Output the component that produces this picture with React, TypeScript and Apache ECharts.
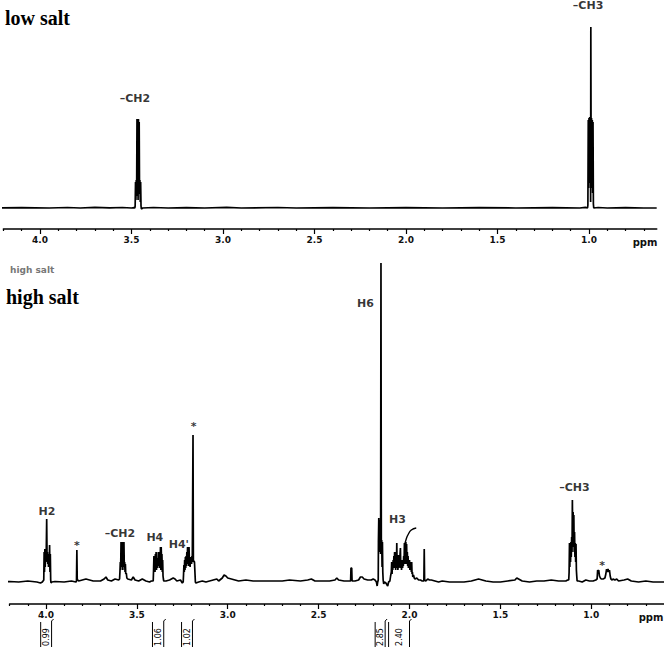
import React, { useEffect, useRef } from "react";
import * as echarts from "echarts";

// ---- axis ticks (ppm) ----
const majorTicks = [4.0, 3.5, 3.0, 2.5, 2.0, 1.5, 1.0];
const minorTicks = [
  4.2, 4.1, 3.9, 3.8, 3.7, 3.6, 3.4, 3.3, 3.2, 3.1, 2.9, 2.8, 2.7, 2.6, 2.4, 2.3,
  2.2, 2.1, 1.9, 1.8, 1.7, 1.6, 1.4, 1.3, 1.2, 1.1, 0.9, 0.8, 0.7,
];

// ---- low salt spectrum [ppm, intensity] ----
const lowSalt: [number, number][] = [
  [4.22, 0], [4.1, 0.3], [3.95, 0], [3.85, 0.5], [3.78, 0], [3.7, 0.6], [3.62, 0.2], [3.55, 0.5], [3.5, 0], [3.486, 0.3],
  [3.482, 0], [3.48, 2], [3.478, 26], [3.476, 8], [3.474, 28], [3.472, 12], [3.47, 89], [3.468, 30], [3.466, 88],
  [3.464, 8], [3.462, 89], [3.46, 30], [3.458, 86], [3.456, 14], [3.454, 28], [3.452, 6], [3.45, 26], [3.448, 2],
  [3.446, -1], [3.44, 0], [3.38, 0.5], [3.3, 0], [3.2, 0.4], [3.1, 0], [2.98, 0.6], [2.9, 0], [2.7, 0.5], [2.6, 0],
  [2.4, 0.4], [2.2, 0], [2.0, 0.3], [1.8, 0], [1.6, 0.3], [1.4, 0], [1.2, 0.4], [1.05, 0], [1.02, 0.6],
  [1.008, 0], [1.006, 3], [1.004, 88], [1.002, 20], [1.0, 90], [0.998, 25], [0.996, 91], [0.994, 30], [0.992, 89],
  [0.991, 6], [0.99, 181], [0.988, 30], [0.986, 90], [0.984, 20], [0.982, 88], [0.98, 15], [0.978, 86], [0.976, 4],
  [0.974, 0], [0.95, 0.5], [0.9, 0], [0.8, 0.4], [0.7, 0], [0.63, 0],
];

// ---- high salt spectrum [ppm, intensity] ----
const highSalt: [number, number][] = [
  [4.25, 0], [4.2, 0.5], [4.15, 0], [4.1, 1], [4.05, 0], [4.03, -1], [4.02, 0],
  [4.012, 2], [4.01, 30], [4.008, 10], [4.006, 33], [4.004, 15], [4.002, 32], [4.0, 20], [3.998, 35], [3.996, 63],
  [3.994, 25], [3.992, 30], [3.99, 18], [3.988, 28], [3.986, 15], [3.984, 27], [3.982, 20], [3.98, 37], [3.978, 10],
  [3.976, 28], [3.974, 2], [3.972, -1], [3.968, 0], [3.95, 0.5], [3.9, 0], [3.86, 1], [3.835, 0],
  [3.832, 1], [3.83, 32], [3.828, 3], [3.825, 2], [3.82, 1],
  [3.8, 2], [3.78, 3], [3.76, 2], [3.74, 1], [3.7, 1], [3.68, 3], [3.67, 5], [3.66, 2], [3.64, 1], [3.62, 3], [3.6, 2],
  [3.595, 3], [3.593, 10], [3.591, 20], [3.589, 12], [3.587, 40], [3.585, 15], [3.583, 40], [3.581, 18], [3.579, 20],
  [3.577, 12], [3.575, 40], [3.573, 18], [3.571, 40], [3.569, 15], [3.567, 20], [3.565, 10], [3.563, 18], [3.561, 8],
  [3.558, 9], [3.555, 4], [3.55, 3],
  [3.53, 2], [3.52, 5], [3.51, 2], [3.49, 1], [3.47, 3], [3.45, 1], [3.43, 0], [3.42, 1],
  [3.41, 1], [3.408, 12], [3.406, 26], [3.404, 14], [3.402, 22], [3.4, 10], [3.398, 28], [3.396, 18], [3.394, 30],
  [3.392, 12], [3.39, 22], [3.388, 14], [3.386, 24], [3.384, 16], [3.382, 30], [3.38, 18], [3.378, 26], [3.376, 14],
  [3.374, 30], [3.372, 20], [3.37, 35], [3.368, 12], [3.366, 35], [3.364, 20], [3.362, 28], [3.36, 10], [3.358, 22],
  [3.356, 6], [3.354, 3], [3.352, 1],
  [3.34, 1], [3.32, 2], [3.3, 4], [3.29, 3], [3.28, 1], [3.26, 2], [3.25, -1],
  [3.245, 0], [3.243, 8], [3.241, 17], [3.239, 10], [3.237, 22], [3.235, 12], [3.233, 25], [3.231, 14], [3.229, 26],
  [3.227, 16], [3.225, 30], [3.223, 18], [3.221, 35], [3.219, 20], [3.217, 28], [3.215, 16], [3.213, 35], [3.211, 22],
  [3.209, 24], [3.207, 15], [3.205, 25], [3.203, 18], [3.201, 22], [3.199, 18], [3.197, 26], [3.195, 20], [3.193, 20],
  [3.191, 147], [3.189, 22], [3.187, 20], [3.185, 21], [3.183, 20], [3.18, 20], [3.178, 0], [3.175, -1],
  [3.16, 0], [3.14, 1], [3.12, 0], [3.1, 1], [3.08, 2], [3.06, 3], [3.05, 1], [3.03, 4], [3.02, 7], [3.01, 6], [3.0, 4],
  [2.98, 3], [2.96, 2], [2.94, 1], [2.9, 2], [2.86, 1], [2.8, 1], [2.74, 1], [2.7, 1], [2.66, 2], [2.6, 1], [2.56, 2],
  [2.54, 3], [2.52, 1], [2.48, 1], [2.44, 1], [2.41, 2], [2.4, 4], [2.39, 2], [2.36, 1], [2.34, 1],
  [2.324, 1], [2.322, 14], [2.32, 14], [2.318, 14], [2.316, 1],
  [2.3, 1], [2.28, 2], [2.27, 5], [2.26, 5], [2.25, 3], [2.23, 2], [2.21, 2], [2.2, 3], [2.19, 2], [2.182, 0],
  [2.178, -4], [2.175, 0],
  [2.172, 2], [2.171, 40], [2.169, 64], [2.167, 30], [2.165, 62], [2.163, 30], [2.161, 60], [2.159, 28], [2.157, 319],
  [2.155, 30], [2.153, 42], [2.151, 15], [2.149, 40], [2.147, 10], [2.145, 2], [2.142, -2], [2.138, 0],
  [2.13, -1], [2.12, -4], [2.115, 0], [2.108, 1], [2.104, 6],
  [2.1, 10], [2.098, 20], [2.096, 8], [2.094, 18], [2.092, 12], [2.09, 22], [2.088, 14], [2.086, 26], [2.084, 15],
  [2.082, 30], [2.08, 14], [2.078, 22], [2.076, 12], [2.074, 30], [2.072, 16], [2.07, 39], [2.068, 14], [2.066, 24],
  [2.064, 12], [2.062, 18], [2.06, 27], [2.058, 14], [2.056, 22], [2.054, 16], [2.052, 28], [2.05, 34], [2.048, 14],
  [2.046, 22], [2.044, 12], [2.042, 18], [2.04, 22], [2.038, 14], [2.036, 20], [2.034, 16], [2.032, 26], [2.03, 18],
  [2.028, 39], [2.026, 20], [2.024, 34], [2.022, 18], [2.02, 40], [2.018, 22], [2.016, 38], [2.014, 18], [2.012, 30],
  [2.01, 16], [2.008, 26], [2.006, 14], [2.004, 20], [2.002, 14], [2.0, 22], [1.998, 12], [1.996, 18], [1.994, 14],
  [1.992, 20], [1.99, 10], [1.988, 20], [1.986, 8], [1.984, 10], [1.982, 5], [1.978, 7], [1.974, 4], [1.97, 3],
  [1.96, 4], [1.95, 2], [1.94, 2], [1.93, 1],
  [1.921, 1], [1.919, 33], [1.917, 2],
  [1.91, 1], [1.9, 3], [1.89, 2], [1.88, 2], [1.86, 1], [1.84, 0], [1.82, 1], [1.78, 0], [1.74, 0], [1.7, 0], [1.66, 1],
  [1.64, 2], [1.62, 3], [1.6, 2], [1.58, 1], [1.54, 0], [1.5, 0], [1.46, 1], [1.42, 2], [1.41, 4], [1.4, 3], [1.38, 1],
  [1.34, 0], [1.3, 1], [1.26, 1], [1.22, 2], [1.18, 1], [1.14, 1], [1.13, 2],
  [1.124, 2], [1.122, 10], [1.12, 39], [1.118, 15], [1.116, 38], [1.114, 20], [1.112, 40], [1.11, 25], [1.108, 45],
  [1.106, 30], [1.104, 82], [1.102, 40], [1.1, 70], [1.098, 35], [1.096, 67], [1.094, 30], [1.092, 50], [1.09, 25],
  [1.088, 39], [1.086, 20], [1.084, 38], [1.082, 12], [1.08, 6], [1.078, 1],
  [1.07, 1], [1.05, 0], [1.03, 2], [1.01, 1], [0.99, 1], [0.975, 2],
  [0.968, 3], [0.965, 12], [0.962, 9], [0.959, 12], [0.955, 6], [0.95, 4], [0.945, 3], [0.935, 3], [0.925, 4],
  [0.92, 8], [0.916, 13], [0.912, 10], [0.908, 13], [0.904, 10], [0.9, 12], [0.896, 6], [0.892, 3], [0.885, 2],
  [0.88, 3], [0.87, 2], [0.86, 3], [0.85, 1], [0.82, 2], [0.8, 3], [0.78, 1], [0.74, 0], [0.7, 1], [0.66, 0], [0.6, 0],
];

// integral trace over the 2.0 ppm multiplet
const integralCurve: [number, number][] = [
  [2.027, 37], [2.018, 43], [2.009, 47], [1.99, 52], [1.963, 54],
];

// peak annotations [ppm, height, text]
const lowSaltLabels: [number, number, string][] = [
  [3.481, 110, "–CH2"],
  [1.005, 203, "–CH3"],
];
const highSaltLabels: [number, number, string][] = [
  [3.995, 71, "H2"],
  [3.83, 37, "*"],
  [3.593, 49, "–CH2"],
  [3.401, 45, "H4"],
  [3.269, 38, "H4'"],
  [3.187, 156, "*"],
  [2.242, 279, "H6"],
  [2.066, 63, "H3"],
  [1.093, 95, "–CH3"],
  [0.94, 17, "*"],
];

// integrals [from ppm, to ppm, value]
const integrals: [number, number, string][] = [
  [4.029, 3.969, "0.99"],
  [3.414, 3.352, "1.06"],
  [3.254, 3.194, "1.02"],
  [2.189, 2.134, "2.85"],
  [2.115, 2.0, "2.40"],
];

const tickLabelStyle = {
  fontFamily: "DejaVu Sans",
  fontSize: 9,
  fontWeight: "bold" as const,
  color: "#111",
  margin: 6,
  formatter: (v: number) => v.toFixed(1),
};

function makeAxes(gridIndex: number, min: number, max: number) {
  return [
    {
      type: "value",
      gridIndex,
      inverse: true,
      min,
      max,
      position: "bottom",
      axisLine: { show: true, onZero: false, lineStyle: { color: "#000", width: 1.6 } },
      axisTick: { show: true, customValues: majorTicks, length: 5, lineStyle: { color: "#000", width: 1.2 } },
      axisLabel: { ...tickLabelStyle, customValues: majorTicks },
      splitLine: { show: false },
    },
    {
      type: "value",
      gridIndex,
      inverse: true,
      min,
      max,
      position: "bottom",
      offset: 0,
      axisLine: { show: false, onZero: false },
      axisTick: { show: true, customValues: minorTicks, length: 2, lineStyle: { color: "#000", width: 1.2 } },
      axisLabel: { show: false },
      splitLine: { show: false },
    },
  ];
}

const peakLabelFont = {
  fontFamily: "DejaVu Sans",
  fontSize: 11,
  fontWeight: "bold" as const,
  color: "#000",
};

function labelSeries(xAxisIndex: number, yAxisIndex: number, items: [number, number, string][]) {
  return {
    type: "scatter",
    xAxisIndex,
    yAxisIndex,
    symbolSize: 1,
    itemStyle: { color: "rgba(0,0,0,0)" },
    silent: true,
    data: items.map((d) => ({ value: [d[0], d[1]], name: d[2] })),
    label: {
      show: true,
      position: "inside",
      formatter: (p: any) => p.name,
      ...peakLabelFont,
    },
  };
}

export default function App() {
  const ref = useRef<HTMLDivElement>(null);
  useEffect(() => {
    if (!ref.current) return;
    const chart = echarts.init(ref.current, undefined, { renderer: "svg" });
    const option: any = {
      animation: false,
      backgroundColor: "#fff",
      grid: [
        { left: 3.4, top: 0, width: 653.3, height: 229 },
        { left: 9.6, top: 254, width: 655.2, height: 350 },
      ],
      xAxis: [...makeAxes(0, 0.63, 4.2), ...makeAxes(1, 0.6, 4.2)],
      yAxis: [
        { type: "value", gridIndex: 0, min: -21, max: 208, show: false },
        { type: "value", gridIndex: 1, min: -22, max: 328, show: false },
      ],
      series: [
        {
          type: "line",
          xAxisIndex: 0,
          yAxisIndex: 0,
          data: lowSalt,
          showSymbol: false,
          lineStyle: { color: "#000", width: 1.7 },
          silent: true,
        },
        {
          type: "line",
          xAxisIndex: 2,
          yAxisIndex: 1,
          data: highSalt,
          showSymbol: false,
          lineStyle: { color: "#000", width: 1.7 },
          silent: true,
        },
        {
          type: "line",
          xAxisIndex: 2,
          yAxisIndex: 1,
          data: integralCurve,
          showSymbol: false,
          smooth: true,
          lineStyle: { color: "#000", width: 1.4 },
          silent: true,
        },
        labelSeries(0, 0, lowSaltLabels),
        labelSeries(2, 1, highSaltLabels),
        {
          type: "custom",
          xAxisIndex: 2,
          yAxisIndex: 1,
          clip: false,
          silent: true,
          data: integrals.map((d) => [d[0], d[1]]),
          renderItem: (params: any, api: any) => {
            const item = integrals[params.dataIndex];
            const p1 = api.coord([api.value(0), -22]);
            const p2 = api.coord([api.value(1), -22]);
            const x1 = p1[0];
            const x2 = p2[0];
            const yA = p1[1];
            const ls = { stroke: "#000", lineWidth: 1 };
            return {
              type: "group",
              children: [
                { type: "line", shape: { x1, y1: yA + 18, x2: x1, y2: yA + 45 }, style: ls },
                { type: "line", shape: { x1: x2, y1: yA + 17, x2, y2: yA + 45 }, style: ls },
                { type: "line", shape: { x1: x2, y1: yA + 17, x2: x2 + 2, y2: yA + 15 }, style: ls },
                {
                  type: "text",
                  x: (x1 + x2) / 2,
                  y: yA + 33,
                  rotation: Math.PI / 2,
                  style: {
                    text: item[2],
                    fontFamily: "DejaVu Sans",
                    fontSize: 8,
                    fill: "#000",
                    align: "center",
                    verticalAlign: "middle",
                  },
                },
              ],
            };
          },
        },
      ],
      graphic: [
        {
          type: "text",
          left: 5,
          top: 8,
          style: { text: "low salt", font: "bold 20px 'Liberation Serif'", fill: "#000" },
        },
        {
          type: "text",
          left: 10,
          top: 265,
          style: { text: "high salt", font: "bold 9px 'DejaVu Sans'", fill: "#777" },
        },
        {
          type: "text",
          left: 6,
          top: 287,
          style: { text: "high salt", font: "bold 20px 'Liberation Serif'", fill: "#000" },
        },
        {
          type: "text",
          x: 645,
          y: 242,
          style: { text: "ppm", font: "bold 10px 'DejaVu Sans'", fill: "#111", align: "center", verticalAlign: "middle" },
        },
        {
          type: "text",
          x: 651,
          y: 617,
          style: { text: "ppm", font: "bold 10px 'DejaVu Sans'", fill: "#111", align: "center", verticalAlign: "middle" },
        },
      ],
    };
    chart.setOption(option);
    return () => chart.dispose();
  }, []);
  return (
    <div
      ref={ref}
      style={{ position: "fixed", left: 0, top: 0, width: 664, height: 647, background: "#fff" }}
    />
  );
}
